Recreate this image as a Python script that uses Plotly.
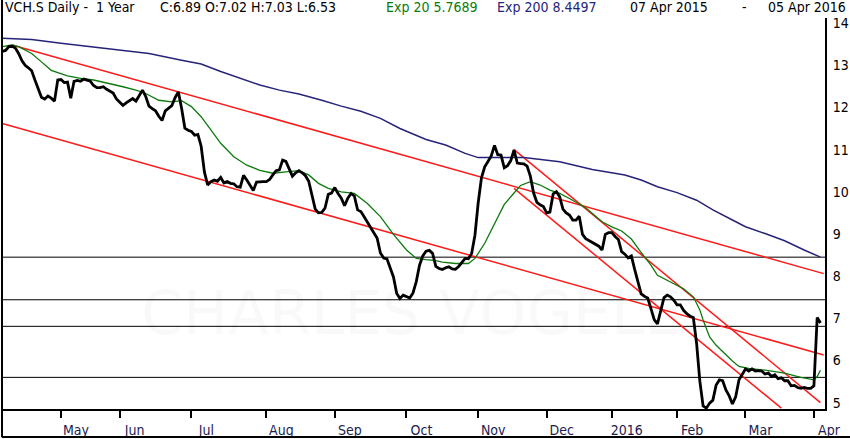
import plotly.graph_objects as go

# Daily closes of VCH.S, one value per trading session (07 Apr 2015 - 05 Apr 2016)
close = [
    13.33, 13.35, 13.44, 13.45, 13.41, 13.28, 13.11, 13.00, 12.94, 12.87,
    12.65, 12.42, 12.24, 12.20, 12.27, 12.22, 12.15, 12.65, 12.66, 12.59,
    12.60, 12.22, 12.62, 12.64, 12.62, 12.67, 12.65, 12.62, 12.52, 12.47,
    12.47, 12.49, 12.43, 12.39, 12.34, 12.20, 12.12, 12.05, 12.11, 12.17,
    12.21, 12.15, 12.27, 12.41, 12.26, 12.03, 11.97, 11.92, 11.79, 11.69,
    11.92, 11.97, 12.04, 12.23, 12.37, 11.98, 11.51, 11.46, 11.43, 11.34,
    11.36, 11.08, 10.47, 10.16, 10.24, 10.28, 10.25, 10.34, 10.21, 10.24,
    10.20, 10.19, 10.12, 10.11, 10.39, 10.28, 10.14, 10.03, 10.23, 10.24,
    10.24, 10.24, 10.29, 10.40, 10.50, 10.52, 10.75, 10.72, 10.56, 10.37,
    10.45, 10.50, 10.45, 10.38, 10.25, 9.92, 9.59, 9.50, 9.51, 9.61,
    9.94, 9.97, 10.10, 9.96, 9.85, 9.67, 9.85, 9.96, 9.90, 9.57,
    9.53, 9.41, 9.29, 9.15, 9.05, 8.90, 8.55, 8.43, 8.41, 8.17,
    7.98, 7.59, 7.47, 7.55, 7.51, 7.48, 7.60, 7.87, 8.26, 8.48,
    8.59, 8.61, 8.54, 8.23, 8.18, 8.16, 8.20, 8.22, 8.17, 8.16,
    8.23, 8.32, 8.42, 8.41, 8.54, 8.97, 9.74, 10.33, 10.59, 10.72,
    10.85, 11.10, 10.88, 10.87, 10.57, 10.62, 10.74, 10.99, 10.68, 10.67,
    10.66, 10.61, 10.37, 9.97, 9.75, 9.69, 9.65, 9.50, 9.52, 9.95,
    10.00, 9.88, 9.59, 9.50, 9.45, 9.33, 9.33, 9.42, 8.99, 8.89,
    8.84, 8.81, 8.74, 8.71, 8.62, 8.99, 9.03, 9.03, 8.94, 8.87,
    8.58, 8.52, 8.43, 8.48, 8.16, 7.84, 7.58, 7.52, 7.48, 7.23,
    6.97, 6.87, 7.17, 7.49, 7.55, 7.51, 7.43, 7.32, 7.32, 7.19,
    7.11, 7.05, 7.02, 6.41, 5.51, 4.92, 4.87, 4.99, 5.06, 5.42,
    5.54, 5.52, 5.30, 5.16, 4.97, 5.14, 5.54, 5.68, 5.80, 5.75,
    5.80, 5.75, 5.76, 5.75, 5.68, 5.70, 5.62, 5.66, 5.57, 5.59,
    5.52, 5.52, 5.40, 5.41, 5.36, 5.34, 5.36, 5.34, 5.34, 5.40,
    7.02, 6.89,
]
session = list(range(len(close)))

# 20 day exponential average
ema20_session = [0, 3, 5, 9, 12, 15, 20, 24, 28, 33, 37, 41, 44, 48, 52, 55, 58, 61, 64, 67,
                 71, 75, 79, 83, 87, 91, 94, 97, 100, 104, 108, 112, 116, 120, 124, 127, 130,
                 133, 135, 139, 143, 145, 148, 151, 154, 157, 159, 162, 165, 168, 171, 174,
                 177, 179, 184, 187, 190, 193, 196, 199, 201, 205, 209, 212, 214, 215, 217,
                 219, 221, 224, 226, 229, 234, 240, 245, 249, 250, 251]
ema20 = [13.44, 13.48, 13.44, 13.28, 13.08, 12.88, 12.75, 12.69, 12.65, 12.57, 12.49, 12.41,
         12.33, 12.17, 12.13, 12.16, 12.02, 11.78, 11.46, 11.15, 10.83, 10.63, 10.51, 10.44,
         10.47, 10.50, 10.40, 10.20, 10.08, 10.00, 9.96, 9.72, 9.41, 8.99, 8.62, 8.42, 8.39,
         8.37, 8.33, 8.30, 8.30, 8.42, 8.78, 9.25, 9.70, 9.97, 10.15, 10.24, 10.16, 10.04,
         9.96, 9.84, 9.70, 9.62, 9.29, 9.17, 9.07, 8.88, 8.56, 8.26, 8.02, 7.86, 7.70, 7.51,
         7.20, 6.96, 6.56, 6.36, 6.21, 5.99, 5.86, 5.81, 5.77, 5.70, 5.60, 5.54, 5.62, 5.77]

# 200 day exponential average
ema200_session = [0, 9, 18, 27, 36, 45, 55, 61, 67, 73, 79, 85, 91, 98, 104, 110, 116, 122,
                  130, 136, 142, 146, 151, 160, 171, 181, 191, 196, 201, 207, 213, 218, 224,
                  228, 234, 240, 246, 251]
ema200 = [13.64, 13.61, 13.52, 13.44, 13.36, 13.28, 13.12, 13.03, 12.85, 12.69, 12.53, 12.41,
          12.32, 12.17, 12.03, 11.91, 11.74, 11.50, 11.24, 11.11, 10.91, 10.81, 10.81, 10.81,
          10.71, 10.53, 10.40, 10.28, 10.12, 9.98, 9.80, 9.57, 9.33, 9.17, 9.01, 8.84, 8.62,
          8.45]

# drawn trend lines: (start session, start price, end session, end price)
trend_lines = [
    (3, 13.48, 252, 8.06),
    (0, 11.62, 252, 6.13),
    (157, 11.00, 251, 5.00),
    (157, 10.08, 239, 4.87),
]

# horizontal levels
levels = [8.45, 7.44, 6.81, 5.60]

# first session of each month
month_session = [18, 36, 58, 81, 102, 124, 146, 167, 187, 207, 228, 249]
month_label = ["May", "Jun", "Jul", "Aug", "Sep", "Oct", "Nov", "Dec", "2016", "Feb", "Mar", "Apr"]
price_ticks = list(range(5, 15))

font_main = "DejaVu Sans Condensed, Liberation Sans Narrow, DejaVu Sans"

fig = go.Figure()

for x0, y0, x1, y1 in trend_lines:
    fig.add_trace(go.Scatter(x=[x0, x1], y=[y0, y1], mode="lines",
                             line=dict(color="#ff1a1a", width=1.5), hoverinfo="skip"))

fig.add_trace(go.Scatter(x=ema200_session, y=ema200, mode="lines",
                         line=dict(color="#26237a", width=1.5), name="Exp 200"))
fig.add_trace(go.Scatter(x=ema20_session, y=ema20, mode="lines",
                         line=dict(color="#0c7a0c", width=1.3), name="Exp 20"))
fig.add_trace(go.Scatter(x=session, y=close, mode="lines",
                         line=dict(color="black", width=2.8), name="Close"))

for lv in levels:
    fig.add_shape(type="line", xref="paper", x0=0, x1=1, yref="y", y0=lv, y1=lv,
                  line=dict(color="black", width=1), layer="below")

# outer frame (left and bottom edges)
fig.add_shape(type="line", xref="paper", yref="paper", x0=0, x1=0, y0=-0.072, y1=1.06,
              line=dict(color="black", width=2))
fig.add_shape(type="line", xref="paper", yref="paper", x0=0, x1=1.04, y0=-0.0716, y1=-0.0716,
              line=dict(color="black", width=2))

# header text
header = [
    ("VCH.S Daily -  1 Year", 0.0012, "black"),
    (f"C:{close[-1]:.2f} O:7.02 H:7.03 L:6.53", 0.1895, "black"),
    ("Exp 20 5.7689", 0.4642, "#0c7a0c"),
    ("Exp 200 8.4497", 0.5990, "#26237a"),
    ("07 Apr 2015", 0.7606, "black"),
    ("-", 0.8967, "black"),
    ("05 Apr 2016", 0.9284, "black"),
]
for txt, xp, col in header:
    fig.add_annotation(text=txt, xref="paper", yref="paper", x=xp, y=1.027,
                       xanchor="left", yanchor="middle", showarrow=False,
                       font=dict(family=font_main, size=14, color=col))

# faint watermark
fig.add_annotation(text="CHARLES VOGELE", xref="paper", yref="paper", x=0.497, y=0.15,
                   showarrow=False, font=dict(family="DejaVu Sans", size=60,
                                              color="rgba(0,0,0,0.025)"))

fig.update_layout(
    width=850, height=439,
    margin=dict(l=2, r=25, t=18, b=30),
    paper_bgcolor="white", plot_bgcolor="white",
    showlegend=False,
    font=dict(family=font_main, size=14, color="black"),
)
fig.update_xaxes(
    range=[-0.1, 252.4], showgrid=False, zeroline=False,
    showline=True, linecolor="black", linewidth=2,
    ticks="outside", ticklen=7, tickwidth=2, tickcolor="black",
    tickvals=month_session, ticktext=month_label, ticklabelshift=15,
    tickfont=dict(family=font_main, size=14, color="#1c1c50"),
)
fig.update_yaxes(
    range=[4.85, 14.12], side="right", showgrid=False, zeroline=False,
    showline=True, linecolor="black", linewidth=2, ticks="",
    tickvals=price_ticks, ticklabelstandoff=3,
    tickfont=dict(family=font_main, size=14, color="black"),
)

# page body has a default margin; drop it so the chart sits at the window corner
fig.write_html("out.html", config={"displayModeBar": False},
               post_script="document.body.style.margin='0';document.body.style.overflow='hidden';")
